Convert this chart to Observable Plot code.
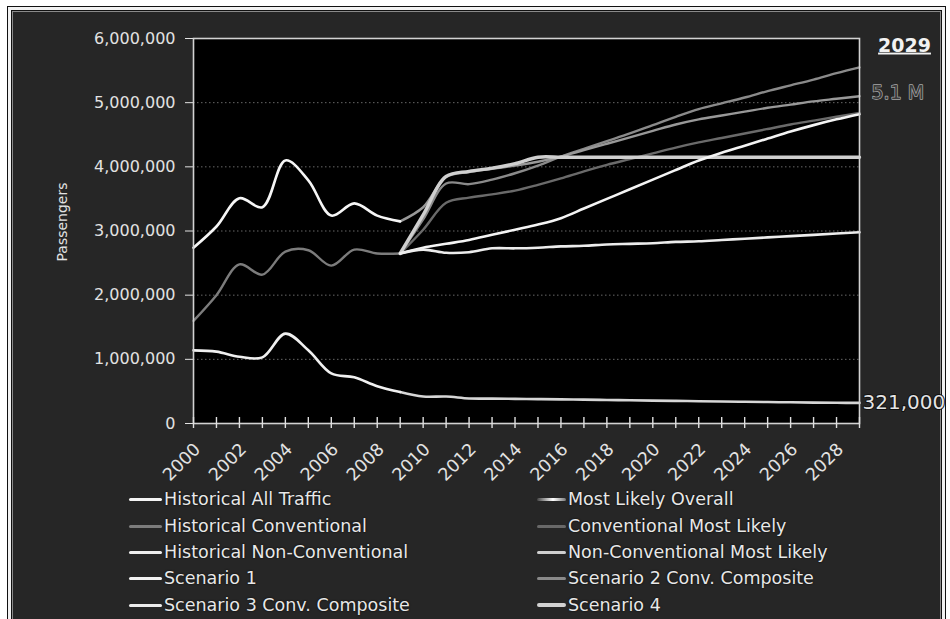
<!DOCTYPE html>
<html>
<head>
<meta charset="utf-8">
<script src="https://cdn.jsdelivr.net/npm/d3@7"></script>
<script src="https://cdn.jsdelivr.net/npm/@observablehq/plot@0.6"></script>
<style>
  html, body { margin: 0; padding: 0; background: #fff; }
  #page { position: relative; width: 950px; height: 619px; overflow: hidden; background: #fff; font-family: "DejaVu Sans", sans-serif; }
  #frame { position: absolute; left: 7px; top: 6px; width: 937px; height: 640px; background: #262626;
           border: 1px solid #111; box-shadow: inset 0 0 0 3px #f2f2f2, inset 0 0 0 4px #111, inset 0 0 0 5px #8a8a8a; }
  #chart { position: absolute; left: 0; top: 0; }
  #ytitle { position: absolute; left: 62px; top: 222px; transform: translate(-50%, -50%) rotate(-90deg);
            color: #e2e2e2; font-size: 14px; white-space: nowrap; }
  .lg { position: absolute; height: 26px; display: flex; align-items: center; color: #e8e8e8; font-size: 17.5px; white-space: nowrap; text-shadow: 0 0 2px #000; }
  .sw { display: inline-block; border-radius: 2px; margin-right: 2px; }
</style>
</head>
<body>
<div id="page">
  <div id="frame"></div>
  <div id="chart"></div>
  <div id="ytitle">Passengers</div>
  <div id="legend"></div>
</div>
<script>
// Years
const histYears = [2000, 2001, 2002, 2003, 2004, 2005, 2006, 2007, 2008, 2009];
const projYears = [2009, 2010, 2011, 2012, 2013, 2014, 2015, 2016, 2017, 2018, 2019,
                   2020, 2021, 2022, 2023, 2024, 2025, 2026, 2027, 2028, 2029];
const allYears = [2000, 2001, 2002, 2003, 2004, 2005, 2006, 2007, 2008, 2009,
                  2010, 2011, 2012, 2013, 2014, 2015, 2016, 2017, 2018, 2019,
                  2020, 2021, 2022, 2023, 2024, 2025, 2026, 2027, 2028, 2029];
const xTickYears = [2000, 2002, 2004, 2006, 2008, 2010, 2012, 2014, 2016, 2018,
                    2020, 2022, 2024, 2026, 2028];
const yTicks = [0, 1000000, 2000000, 3000000, 4000000, 5000000, 6000000];
const gridValues = [1000000, 2000000, 3000000, 4000000, 5000000];

// Historical passengers
const histAll = [2740000, 3070000, 3510000, 3370000, 4100000, 3790000, 3240000, 3430000, 3240000, 3150000];
const histConv = [1600000, 2000000, 2480000, 2320000, 2680000, 2700000, 2460000, 2710000, 2650000, 2650000];
const histNonConv = [1140000, 1120000, 1040000, 1030000, 1400000, 1140000, 780000, 720000, 580000, 490000];

// Forecasts, 2009-2029
const mostLikely = [3150000, 3370000, 3840000, 3920000, 3970000, 4020000, 4080000, 4160000, 4260000, 4360000, 4460000,
                    4560000, 4660000, 4740000, 4800000, 4860000, 4920000, 4970000, 5020000, 5060000, 5100000];
const convML = [2650000, 3020000, 3440000, 3520000, 3570000, 3630000, 3720000, 3820000, 3930000, 4030000, 4120000,
                4210000, 4300000, 4380000, 4450000, 4520000, 4590000, 4660000, 4720000, 4780000, 4840000];
const nonConvML = [490000, 420000, 420000, 390000, 388000, 384000, 380000, 376000, 372000, 367000, 362000,
                   357000, 352000, 347000, 342000, 338000, 334000, 330000, 326000, 323000, 321000];
const scen1 = [2650000, 2740000, 2800000, 2860000, 2940000, 3020000, 3100000, 3200000, 3350000, 3500000, 3650000,
               3800000, 3950000, 4100000, 4220000, 4330000, 4440000, 4550000, 4650000, 4740000, 4820000];
const scen2 = [2650000, 3180000, 3740000, 3730000, 3800000, 3900000, 4020000, 4160000, 4280000, 4400000, 4520000,
               4650000, 4780000, 4900000, 4990000, 5080000, 5180000, 5270000, 5360000, 5460000, 5550000];
const scen3 = [2650000, 2710000, 2660000, 2670000, 2730000, 2730000, 2740000, 2760000, 2770000, 2790000, 2800000,
               2810000, 2830000, 2840000, 2860000, 2880000, 2900000, 2920000, 2940000, 2960000, 2980000];
const scen4 = [2650000, 3250000, 3850000, 3930000, 3980000, 4050000, 4150000, 4150000, 4150000, 4150000, 4150000,
               4150000, 4150000, 4150000, 4150000, 4150000, 4150000, 4150000, 4150000, 4150000, 4150000];

// Series styling (drawing order: back to front)
const series = [
  {name: "Historical Conventional", years: histYears, values: histConv, color: "#7c7c7c", width: 2.4},
  {name: "Conventional Most Likely", years: projYears, values: convML, color: "#6a6a6a", width: 2.4},
  {name: "Scenario 2 Conv. Composite", years: projYears, values: scen2, color: "#8a8a8a", width: 2.4},
  {name: "Most Likely Overall", years: projYears, values: mostLikely, color: "#989898", width: 2.4},
  {name: "Scenario 4", years: projYears, values: scen4, color: "#cfcfcf", width: 3.4},
  {name: "Non-Conventional Most Likely", years: projYears, values: nonConvML, color: "#d6d6d6", width: 2.6},
  {name: "Scenario 1", years: projYears, values: scen1, color: "#f4f4f4", width: 2.6},
  {name: "Scenario 3 Conv. Composite", years: projYears, values: scen3, color: "#ececec", width: 2.6},
  {name: "Historical Non-Conventional", years: histYears, values: histNonConv, color: "#f0f0f0", width: 2.6},
  {name: "Historical All Traffic", years: histYears, values: histAll, color: "#f6f6f6", width: 2.6}
];
const rows = s => s.years.map((yr, i) => ({year: yr, value: s.values[i]}));

const lastOverall = mostLikely[mostLikely.length - 1];
const lastNonConv = nonConvML[nonConvML.length - 1];
const endYear = allYears[allYears.length - 1];

const chart = Plot.plot({
  width: 950,
  height: 619,
  marginLeft: 193,
  marginRight: 91,
  marginTop: 38,
  marginBottom: 196,
  style: {background: "transparent", color: "#e2e2e2", fontFamily: "DejaVu Sans, sans-serif", fontSize: "16px"},
  x: {domain: [2000, 2029], ticks: xTickYears, tickFormat: d => String(d), tickRotate: -45, tickSize: 0, tickPadding: 14, label: null},
  y: {domain: [0, 6000000], ticks: yTicks, tickFormat: d3.format(","), tickSize: 8, tickPadding: 10, label: null},
  marks: [
    Plot.frame({fill: "#000"}),
    Plot.ruleY(gridValues, {stroke: "#8a8a8a", strokeOpacity: 0.75, strokeDasharray: "1.5,2.5"}),
    ...series.map(s => Plot.line(rows(s), {
      x: "year", y: "value", stroke: s.color, strokeWidth: s.width, curve: "catmull-rom"
    })),
    Plot.frame({stroke: "#d2d2d2", strokeWidth: 1.6}),
    Plot.ruleX(allYears, {x: d => d, y1: 0, y2: 0, insetTop: -6, insetBottom: -5, stroke: "#e0e0e0", strokeWidth: 1.4}),
    Plot.text([endYear], {x: d => d, y: 6000000, text: d => String(d), dx: 45, dy: 7, textAnchor: "middle",
      fontSize: 19, fontWeight: "bold", fill: "#f2f2f2"}),
    Plot.text([lastOverall], {x: endYear, y: d => d, text: d => (d / 1e6).toFixed(1) + " M", dx: 12, dy: -3, textAnchor: "start",
      fontSize: 19, fill: "#3a3a3a", stroke: "#a8a8a8", strokeWidth: 1.4, paintOrder: "stroke"}),
    Plot.text([lastNonConv], {x: endYear, y: d => d, text: d => d3.format(",")(d), dx: 3, textAnchor: "start",
      fontSize: 20, fill: "#e4e4e4", stroke: "#111", strokeWidth: 2, paintOrder: "stroke"})
  ]
});
const svg = d3.select(chart);
svg.selectAll("text").filter(function () { return this.textContent === String(endYear); })
  .style("text-decoration", "underline");
// Year labels: slightly larger and nudged down-right of the tick marks
svg.selectAll('g[aria-label^="x-axis"]').each(function () {
  const g = d3.select(this);
  const t = g.attr("transform") || "";
  g.attr("transform", t + " translate(4,9)");
});
svg.selectAll('g[aria-label^="x-axis"] text').style("font-size", "17.5px");
document.getElementById("chart").appendChild(chart);

// Legend: two columns, five rows each
const legendLeft = [
  {name: "Historical All Traffic", bg: "#f4f4f4", h: 3},
  {name: "Historical Conventional", bg: "#7c7c7c", h: 3},
  {name: "Historical Non-Conventional", bg: "#eeeeee", h: 3},
  {name: "Scenario 1", bg: "#f2f2f2", h: 3},
  {name: "Scenario 3 Conv. Composite", bg: "#ececec", h: 3}
];
const legendRight = [
  {name: "Most Likely Overall", bg: "linear-gradient(to right, #444, #fff 55%, #777)", h: 3},
  {name: "Conventional Most Likely", bg: "#686868", h: 3},
  {name: "Non-Conventional Most Likely", bg: "#cfcfcf", h: 3},
  {name: "Scenario 2 Conv. Composite", bg: "#8a8a8a", h: 3},
  {name: "Scenario 4", bg: "#d2d2d2", h: 4}
];
const rowCenters = [499, 526, 552, 578, 605];
const legend = document.getElementById("legend");
function addColumn(items, swLeft, swWidth) {
  items.forEach((it, i) => {
    const div = document.createElement("div");
    div.className = "lg";
    div.style.left = swLeft + "px";
    div.style.top = (rowCenters[i] - 13) + "px";
    const sw = document.createElement("span");
    sw.className = "sw";
    sw.style.width = swWidth + "px";
    sw.style.height = it.h + "px";
    sw.style.background = it.bg;
    div.appendChild(sw);
    div.appendChild(document.createTextNode(it.name));
    legend.appendChild(div);
  });
}
addColumn(legendLeft, 129, 33);
addColumn(legendRight, 537, 29);
</script>
</body>
</html>
